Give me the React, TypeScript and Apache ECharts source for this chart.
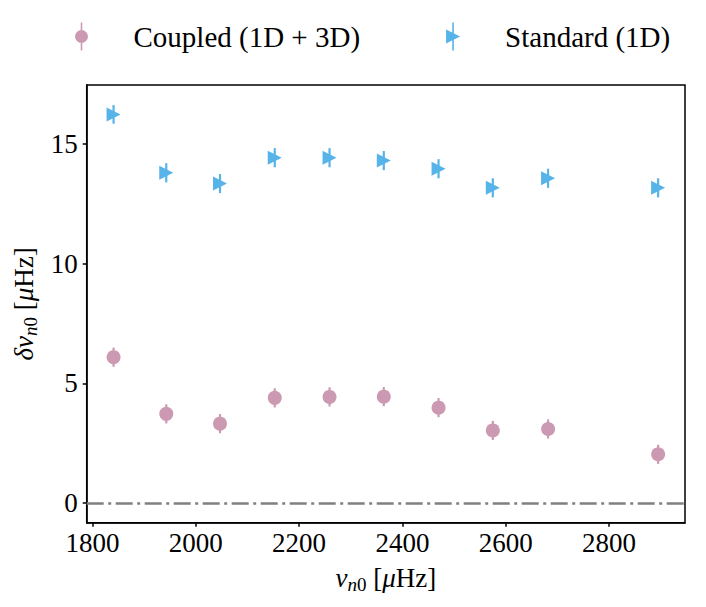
import React, { useEffect, useRef } from "react";
import * as echarts from "echarts";

const freqs = [1841, 1943, 2047, 2153, 2259, 2364, 2470, 2575, 2682, 2895];
const coupledVals = [6.09, 3.72, 3.31, 4.39, 4.43, 4.44, 3.98, 3.03, 3.09, 2.03];
const coupledErr = [0.4, 0.4, 0.4, 0.4, 0.4, 0.4, 0.4, 0.4, 0.4, 0.4];
const standardVals = [16.24, 13.8, 13.35, 14.43, 14.43, 14.31, 13.97, 13.17, 13.57, 13.17];
const standardErr = [0.39, 0.4, 0.4, 0.4, 0.4, 0.4, 0.4, 0.4, 0.4, 0.4];
const xTicks = [1800, 2000, 2200, 2400, 2600, 2800];
const yTicks = [0, 5, 10, 15];

const PINK = "#CC99B3";
const BLUE = "#56B4E9";
const FONT = "Liberation Serif";

const triPath = "path://M0,0 L14,7 L0,14 Z";
const coupledIcon = "path://M6.2,0 H7.8 V28 H6.2 Z M7,7.5 A6.5,6.5 0 1,1 7,20.5 A6.5,6.5 0 1,1 7,7.5 Z";
const standardIcon = "path://M0,7 L14,14 L0,21 Z M6.2,0 H7.8 V28 H6.2 Z";

function errorSeries(name: string, vals: number[], errs: number[], color: string) {
  return {
    type: "custom",
    name,
    silent: true,
    z: 1,
    data: freqs.map((f, i) => [f, vals[i] - errs[i], vals[i] + errs[i]]),
    renderItem: (params: any, api: any) => {
      const lo = api.coord([api.value(0), api.value(1)]);
      const hi = api.coord([api.value(0), api.value(2)]);
      return {
        type: "line",
        shape: { x1: lo[0], y1: lo[1], x2: hi[0], y2: hi[1] },
        style: { stroke: color, lineWidth: 2.2 },
      };
    },
  };
}

export default function App() {
  const ref = useRef<HTMLDivElement>(null);
  useEffect(() => {
    if (!ref.current) return;
    const chart = echarts.init(ref.current, undefined, { renderer: "svg" });
    const rich = {
      i: { fontFamily: FONT, fontSize: 27, fontStyle: "italic", color: "#000" },
      r: { fontFamily: FONT, fontSize: 27, color: "#000" },
      si: { fontFamily: FONT, fontSize: 19, fontStyle: "italic", color: "#000", padding: [12, 0, 0, 0] },
      s: { fontFamily: FONT, fontSize: 19, color: "#000", padding: [12, 0, 0, 0] },
    };
    chart.setOption({
      animation: false,
      backgroundColor: "#fff",
      textStyle: { fontFamily: FONT },
      grid: {
        left: 86.7,
        right: 21,
        top: 85,
        bottom: 84.3,
        show: true,
        borderColor: "#000",
        borderWidth: 1.5,
        backgroundColor: "transparent",
      },
      legend: {
        top: 22,
        left: 75,
        padding: 0,
        itemGap: 86,
        itemWidth: 14,
        itemHeight: 28,
        textStyle: { fontFamily: FONT, fontSize: 29, color: "#000", padding: [0, 0, 0, 40] },
        data: [
          { name: "Coupled (1D + 3D)", icon: coupledIcon, itemStyle: { color: PINK } },
          { name: "Standard (1D)", icon: standardIcon, itemStyle: { color: BLUE } },
        ],
      },
      xAxis: {
        type: "value",
        min: 1789,
        max: 2947,
        name: "{i|ν}{si|n}{s|0}{r| [}{i|μ}{r|Hz]}",
        nameLocation: "middle",
        nameGap: 40,
        nameTextStyle: { rich },
        axisLine: { show: true, onZero: false, lineStyle: { color: "#000", width: 1.5 } },
        axisTick: { show: true, customValues: xTicks, length: 4, lineStyle: { color: "#000", width: 1.5 } },
        axisLabel: {
          customValues: xTicks,
          formatter: (v: number) => String(v),
          fontFamily: FONT,
          fontSize: 27,
          color: "#000",
          margin: 7,
        },
        splitLine: { show: false },
      },
      yAxis: {
        type: "value",
        min: -0.83,
        max: 17.47,
        name: "{i|δν}{si|n}{s|0}{r| [}{i|μ}{r|Hz]}",
        nameLocation: "middle",
        nameGap: 47,
        nameRotate: 90,
        nameTextStyle: { rich },
        axisLine: { show: true, onZero: false, lineStyle: { color: "#000", width: 1.5 } },
        axisTick: { show: true, customValues: yTicks, length: 4, lineStyle: { color: "#000", width: 1.5 } },
        axisLabel: {
          customValues: yTicks,
          formatter: (v: number) => String(v),
          fontFamily: FONT,
          fontSize: 27,
          color: "#000",
          margin: 9,
        },
        splitLine: { show: false },
      },
      series: [
        errorSeries("Coupled (1D + 3D)", coupledVals, coupledErr, PINK),
        {
          type: "scatter",
          name: "Coupled (1D + 3D)",
          data: freqs.map((f, i) => [f, coupledVals[i]]),
          symbol: "circle",
          symbolSize: 14,
          itemStyle: { color: PINK, opacity: 1 },
          z: 2,
          markLine: {
            silent: true,
            symbol: "none",
            label: { show: false },
            lineStyle: { color: "#808080", width: 2.5, type: [17, 4.5, 3, 4.5], opacity: 1 },
            data: [{ yAxis: 0 }],
          },
        },
        errorSeries("Standard (1D)", standardVals, standardErr, BLUE),
        {
          type: "scatter",
          name: "Standard (1D)",
          data: freqs.map((f, i) => [f, standardVals[i]]),
          symbol: triPath,
          symbolSize: [14, 14],
          itemStyle: { color: BLUE, opacity: 1 },
          z: 2,
        },
      ],
    });
    return () => chart.dispose();
  }, []);
  return (
    <div
      ref={ref}
      style={{ position: "fixed", left: 0, top: 0, width: 706, height: 607 }}
    />
  );
}
